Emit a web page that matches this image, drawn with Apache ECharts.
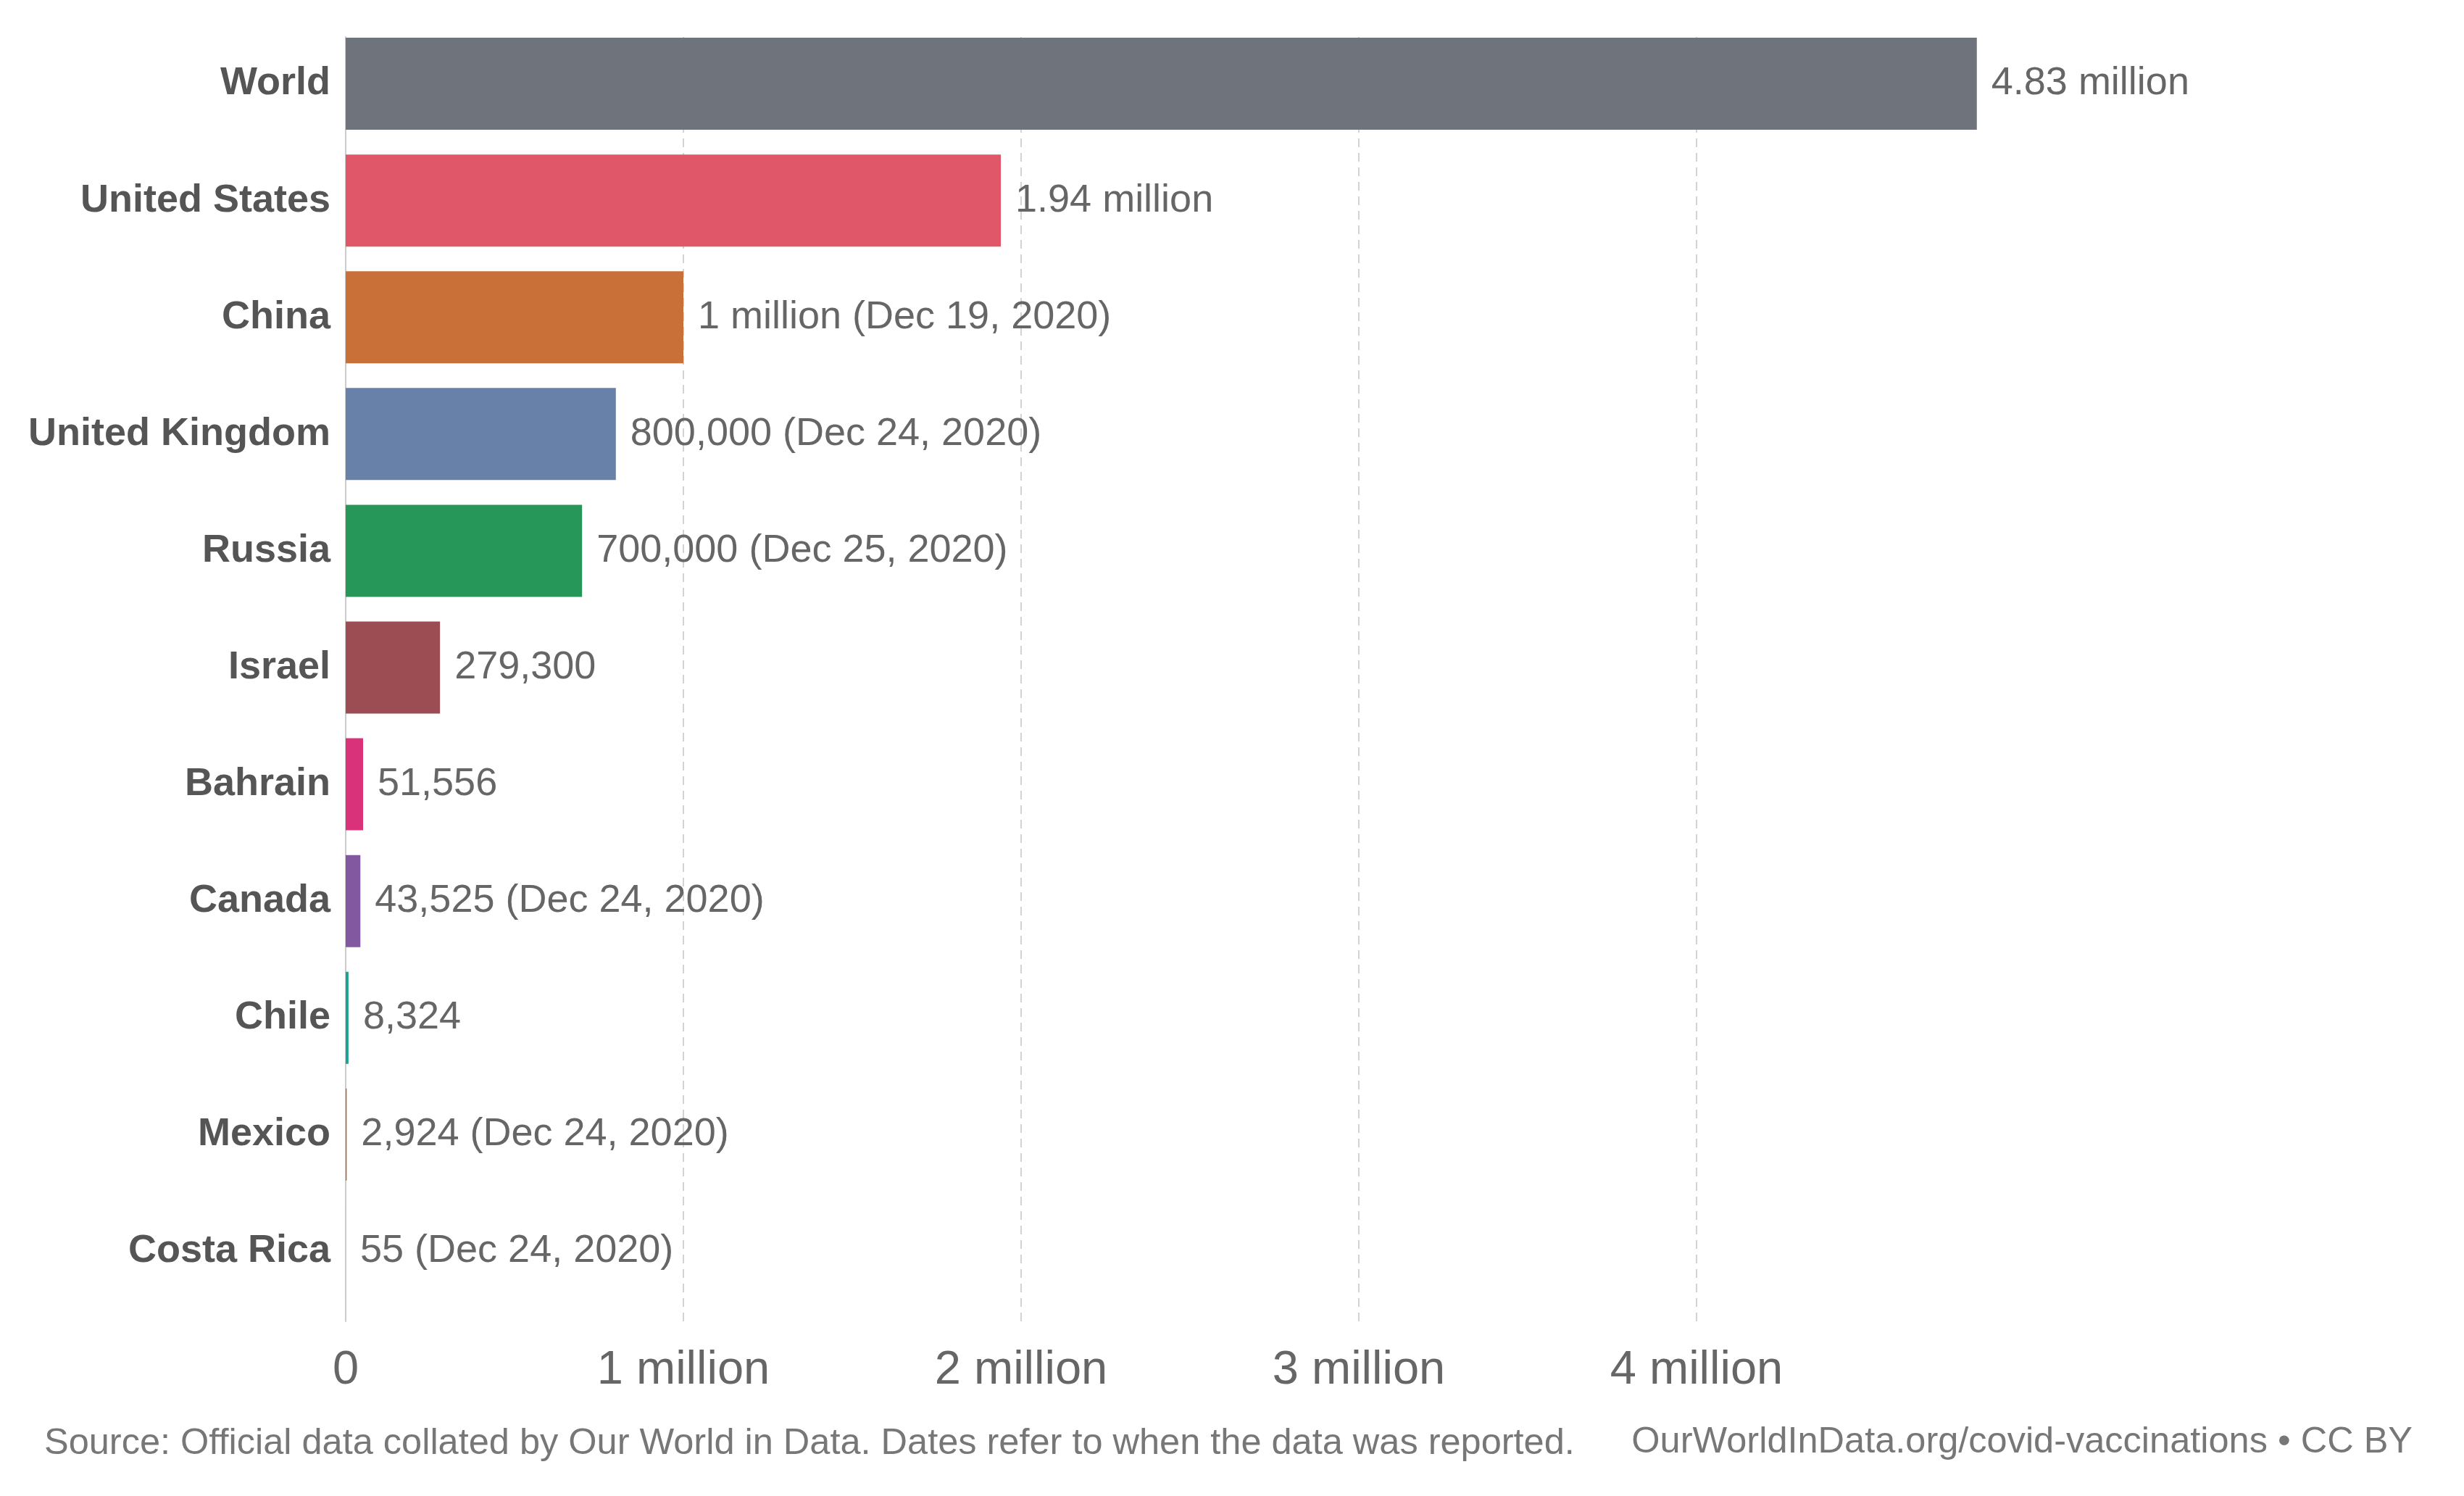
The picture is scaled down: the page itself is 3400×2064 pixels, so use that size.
<!DOCTYPE html>
<html>
<head>
<meta charset="utf-8">
<script src="https://cdn.jsdelivr.net/npm/echarts@6/dist/echarts.min.js"></script>
<style>
html,body{margin:0;padding:0;background:#fff;}
#main{width:3400px;height:2064px;}
</style>
</head>
<body>
<div id="main"></div>
<script>
const categories = ['World','United States','China','United Kingdom','Russia','Israel','Bahrain','Canada','Chile','Mexico','Costa Rica'];
const values = [4830000, 1940000, 1000000, 800000, 700000, 279300, 51556, 43525, 8324, 2924, 55];
const valueLabels = ['4.83 million','1.94 million','1 million (Dec 19, 2020)','800,000 (Dec 24, 2020)','700,000 (Dec 25, 2020)','279,300','51,556','43,525 (Dec 24, 2020)','8,324','2,924 (Dec 24, 2020)','55 (Dec 24, 2020)'];
const barColors = ['#6e737c','#e0576a','#c97038','#6781a9','#279659','#9b4d53','#d9317a','#8259a0','#18a294','#c0602e','#9a9a9a'];
const tickValues = [0, 1000000, 2000000, 3000000, 4000000];
const tickLabels = ['0','1 million','2 million','3 million','4 million'];

const chart = echarts.init(document.getElementById('main'), null, {renderer:'canvas'});
const FONT = '"Liberation Sans", Arial, sans-serif';

chart.setOption({
  backgroundColor: '#ffffff',
  animation: false,
  grid: [
    {left: 477, top: 51, width: 1864, height: 1772, containLabel: false},
    {left: 477, top: 35, width: 2330, height: 1772, containLabel: false}
  ],
  xAxis: [
    {
      gridIndex: 0, type: 'value', min: 0, max: 4000000, interval: 1000000,
      axisLine: {show: false}, axisTick: {show: false},
      splitLine: {show: true, lineStyle: {color: '#d3d3d3', width: 2, type: [12, 8]}},
      axisLabel: {
        show: true, margin: 36, fontFamily: FONT, fontSize: 65, color: '#666666',
        formatter: function (v) { const i = tickValues.indexOf(v); return i >= 0 ? tickLabels[i] : ''; }
      }
    },
    {
      gridIndex: 1, type: 'value', min: 0, max: 5000000, show: false
    }
  ],
  yAxis: [
    {
      gridIndex: 0, type: 'value', min: 0, max: 1,
      axisLine: {show: true, lineStyle: {color: '#cccccc', width: 2}},
      axisTick: {show: false}, axisLabel: {show: false}, splitLine: {show: false}
    },
    {
      gridIndex: 1, type: 'category', data: categories, inverse: true,
      axisLine: {show: false}, axisTick: {show: false}, splitLine: {show: false},
      axisLabel: {show: true, margin: 21, fontFamily: FONT, fontSize: 54, fontWeight: 'bold', color: '#555555'}
    }
  ],
  series: [
    {
      type: 'bar', xAxisIndex: 1, yAxisIndex: 1,
      barWidth: 127,
      data: values.map(function (v, i) { return {value: v, itemStyle: {color: barColors[i]}}; }),
      label: {
        show: true, position: 'right', distance: 20,
        fontFamily: FONT, fontSize: 54, color: '#666666',
        formatter: function (p) { return valueLabels[p.dataIndex]; }
      },
      z: 3
    }
  ],
  graphic: [
    {
      type: 'text', x: 61, y: 1992,
      style: {text: 'Source: Official data collated by Our World in Data. Dates refer to when the data was reported.', font: '50.5px ' + FONT, fill: '#777777', align: 'left', verticalAlign: 'middle'}
    },
    {
      type: 'text', x: 3329, y: 1990,
      style: {text: 'OurWorldInData.org/covid-vaccinations \u2022 CC BY', font: '50.5px ' + FONT, fill: '#777777', align: 'right', verticalAlign: 'middle'}
    }
  ]
});
</script>
</body>
</html>
